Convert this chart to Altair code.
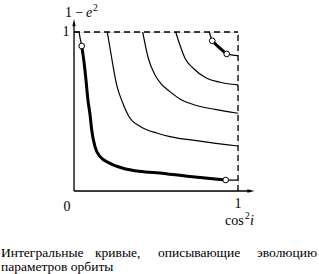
import altair as alt
import pandas as pd

# ---- data (x = cos^2 i, y = 1 - e^2) ----
c1_x = [0.0, 0.030, 0.037, 0.047, 0.061, 0.073, 0.085, 0.098, 0.108, 0.128, 0.159, 0.220, 0.299, 0.382, 0.504, 0.707, 0.925, 1.0]
c1_y = [1.0, 1.0, 0.962, 0.912, 0.811, 0.698, 0.572, 0.478, 0.384, 0.279, 0.216, 0.174, 0.143, 0.126, 0.115, 0.091, 0.069, 0.069]
c2_x = [0.203, 0.230, 0.260, 0.296, 0.335, 0.412, 0.509, 0.585, 0.768, 1.0]
c2_y = [1.0, 0.835, 0.667, 0.557, 0.469, 0.401, 0.363, 0.342, 0.314, 0.283]
c3_x = [0.419, 0.453, 0.494, 0.530, 0.585, 0.646, 0.727, 0.860, 1.0]
c3_y = [1.0, 0.835, 0.730, 0.676, 0.625, 0.579, 0.544, 0.513, 0.489]
c4_x = [0.620, 0.646, 0.677, 0.727, 0.809, 0.890, 1.0]
c4_y = [1.0, 0.918, 0.835, 0.772, 0.709, 0.684, 0.667]
c5_x = [0.825, 0.843, 0.884, 0.931, 1.0]
c5_y = [1.0, 0.945, 0.903, 0.862, 0.851]

# thick parts: index ranges into curves 1 and 5
thick1 = (3, 16)
thick5 = (1, 3)

circle_x = [0.047, 0.925, 0.843, 0.931]
circle_y = [0.912, 0.069, 0.945, 0.862]

caption1_words = ["Интегральные", "кривые,", "описывающие", "эволюцию"]
caption2 = "параметров орбиты"

curves = []
for i, (xs_, ys_) in enumerate([(c1_x, c1_y), (c2_x, c2_y), (c3_x, c3_y), (c4_x, c4_y), (c5_x, c5_y)]):
    for j, (a, b) in enumerate(zip(xs_, ys_)):
        curves.append({"curve": i + 1, "order": j, "x": a, "y": b})
df_thin = pd.DataFrame(curves)

thick = []
for cid, (xs_, ys_), (a0, a1) in [(1, (c1_x, c1_y), thick1), (5, (c5_x, c5_y), thick5)]:
    for j in range(a0, a1 + 1):
        thick.append({"curve": cid, "order": j, "x": xs_[j], "y": ys_[j]})
df_thick = pd.DataFrame(thick)

df_circ = pd.DataFrame({"x": circle_x, "y": circle_y})

W, H = 164, 159
xs = alt.Scale(domain=[0, 1], nice=False, zero=False)
ys = alt.Scale(domain=[0, 1], nice=False, zero=False)
X = alt.X("x:Q", scale=xs, axis=None)
Y = alt.Y("y:Q", scale=ys, axis=None)

thin = alt.Chart(df_thin).mark_line(color="black", strokeWidth=1.2, interpolate="monotone", clip=False).encode(
    x=X, y=Y, detail="curve:N", order="order:Q")
thk = alt.Chart(df_thick).mark_line(color="black", strokeWidth=3, interpolate="monotone", clip=False).encode(
    x=X, y=Y, detail="curve:N", order="order:Q")
circ = alt.Chart(df_circ).mark_point(shape="circle", filled=True, fill="white", stroke="black",
                                     strokeWidth=1, size=32, opacity=1).encode(x=X, y=Y)

# frame: solid axes, dashed top/right
box_df = pd.DataFrame({
    "x": [0.0, 0.0, 0.0, 1.0],
    "y": [0.0, 0.0, 1.0, 0.0],
    "x2": [0.0, 1.07, 1.0, 1.0],
    "y2": [1.055, 0.0, 1.0, 1.0],
    "kind": ["solid", "solid", "dash", "dash"],
})
solid = alt.Chart(box_df[box_df.kind == "solid"]).mark_rule(color="black", strokeWidth=1.3).encode(
    x=X, y=Y, x2="x2:Q", y2="y2:Q")
dashed = alt.Chart(box_df[box_df.kind == "dash"]).mark_rule(color="black", strokeWidth=1.3, strokeDash=[6, 4]).encode(
    x=X, y=Y, x2="x2:Q", y2="y2:Q")

arrows = pd.DataFrame({"x": [0.0, 1.075], "y": [1.055, 0.0], "ang": [0, 90]})
arrow = alt.Chart(arrows).mark_point(shape="M0,-1L0.4,0.7L-0.4,0.7Z", filled=True, color="black",
                                     size=70, opacity=1).encode(x=X, y=Y, angle=alt.Angle("ang:Q", scale=None))

FONT = "Liberation Serif"

def txt(s, x, y, size=14, style="normal", align="left", baseline="alphabetic", weight="normal"):
    return alt.Chart(pd.DataFrame({"t": [s]})).mark_text(
        font=FONT, fontSize=size, fontStyle=style, fontWeight=weight, align=align, baseline=baseline, color="black"
    ).encode(text="t:N", x=alt.value(x), y=alt.value(y))

texts = [
    txt("1 − ", -9, -15, size=14),
    txt("e", 12, -15, size=14, style="italic"),
    txt("2", 19, -21, size=9.5),
    txt("1", -8, 0, size=14, align="center", baseline="middle"),
    txt("0", -7, 175, size=14, align="center", baseline="middle"),
    txt("1", 164, 172, size=14, align="center", baseline="middle"),
    txt("cos", 151, 193, size=14),
    txt("2", 171, 187, size=9.5),
    txt("i", 176, 193, size=14, style="italic"),
    txt(caption1_words[0], -73, 225, size=13.5),
    txt(caption1_words[1], 21, 225, size=13.5),
    txt(caption1_words[2], 84, 225, size=13.5),
    txt(caption1_words[3], 243, 225, size=13.5, align="right"),
    txt(caption2, -73, 239, size=13.5),
]

chart = alt.layer(solid, dashed, thin, thk, circ, arrow, *texts).properties(
    width=W, height=H,
    padding={"left": 74, "top": 32, "right": 81, "bottom": 83},
    autosize=alt.AutoSizeParams(type="none"),
).configure_view(stroke=None).configure(background="white")

chart.save("out.html", embed_options={"renderer": "svg", "actions": False})
